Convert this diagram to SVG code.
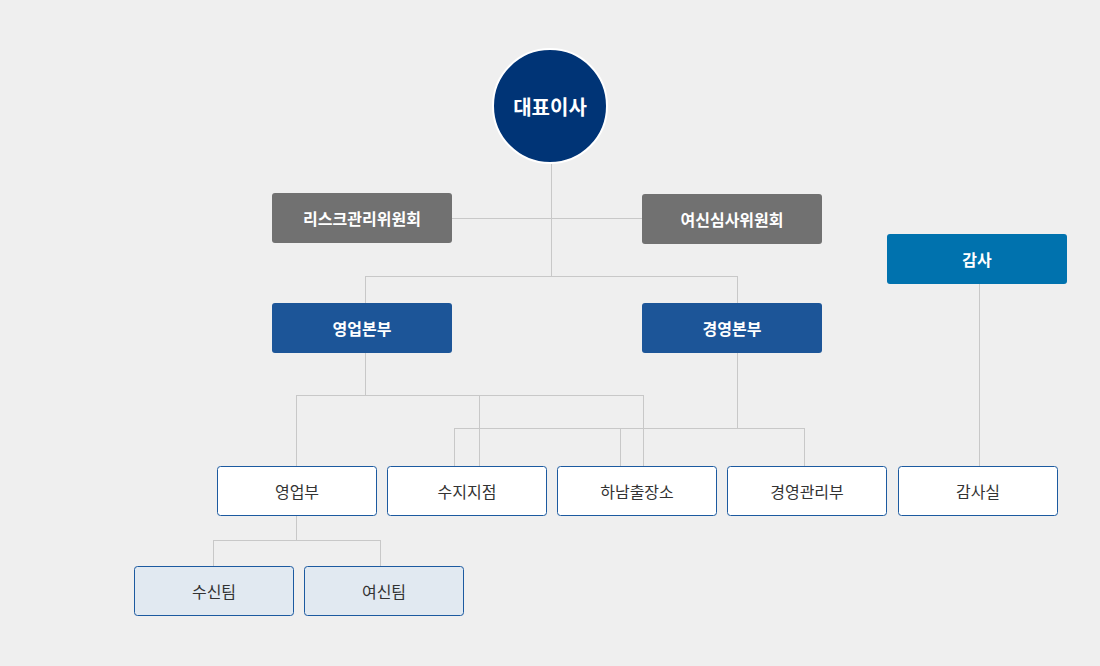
<svg xmlns="http://www.w3.org/2000/svg" width="1100" height="666" viewBox="0 0 1100 666">
<style>
text{font-family:"Noto Sans CJK KR","Noto Sans",sans-serif;text-anchor:middle;dominant-baseline:central}
.w{fill:#fff;font-size:16px;font-weight:bold}
.d{fill:#333;font-size:16px}
.g{fill:#717171}
.b{fill:#1c5598}
.a{fill:#0072ae}
.o{fill:#fff;stroke:#1c5aa0;stroke-width:1}
.s{fill:#e1e9f1;stroke:#1c5aa0;stroke-width:1}
#conn path{fill:none;stroke:#c8c8c8;stroke-width:1}
</style>
<rect width="1100" height="666" fill="#efefef"/>
<g id="conn">
<path d="M551.5 164V276M452 218.5H642M365.5 276.5H737.5M365.5 276V303M737.5 276V303"/>
<path d="M365.5 353V395.5M296.5 395.5H643.5M296.5 395V466M479.5 395V466M643.5 395V466"/>
<path d="M737.5 353V428.5M454.5 428.5H804.5M454.5 428V466M620.5 428V466M804.5 428V466"/>
<path d="M979.5 284V466M296.5 516V540.5M213.5 540.5H380.5M213.5 540V566M380.5 540V566"/>
</g>
<g id="ceo"><circle cx="550" cy="106" r="57" fill="#003476" stroke="#fff" stroke-width="2"/><text class="w" x="550" y="106" font-size="20" style="font-size:20px">대표이사</text></g>
<g id="risk"><rect class="g" x="272" y="193" width="180" height="50" rx="3"/><text class="w" x="362" y="218">리스크관리위원회</text></g>
<g id="credit"><rect class="g" x="642" y="194" width="180" height="50" rx="3"/><text class="w" x="732" y="219">여신심사위원회</text></g>
<g id="audit"><rect class="a" x="887" y="234" width="180" height="50" rx="3"/><text class="w" x="977" y="259">감사</text></g>
<g id="sales-hq"><rect class="b" x="272" y="303" width="180" height="50" rx="3"/><text class="w" x="362" y="328">영업본부</text></g>
<g id="mgmt-hq"><rect class="b" x="642" y="303" width="180" height="50" rx="3"/><text class="w" x="732" y="328">경영본부</text></g>
<g id="sales"><rect class="o" x="217.5" y="466.5" width="159" height="49" rx="3"/><text class="d" x="297" y="491">영업부</text></g>
<g id="suji"><rect class="o" x="387.5" y="466.5" width="159" height="49" rx="3"/><text class="d" x="467" y="491">수지지점</text></g>
<g id="hanam"><rect class="o" x="557.5" y="466.5" width="159" height="49" rx="3"/><text class="d" x="637" y="491">하남출장소</text></g>
<g id="mgmt"><rect class="o" x="727.5" y="466.5" width="159" height="49" rx="3"/><text class="d" x="807" y="491">경영관리부</text></g>
<g id="auditroom"><rect class="o" x="898.5" y="466.5" width="159" height="49" rx="3"/><text class="d" x="978" y="491">감사실</text></g>
<g id="deposit"><rect class="s" x="134.5" y="566.5" width="159" height="49" rx="3"/><text class="d" x="214" y="591">수신팀</text></g>
<g id="loan"><rect class="s" x="304.5" y="566.5" width="159" height="49" rx="3"/><text class="d" x="384" y="591">여신팀</text></g>
</svg>
